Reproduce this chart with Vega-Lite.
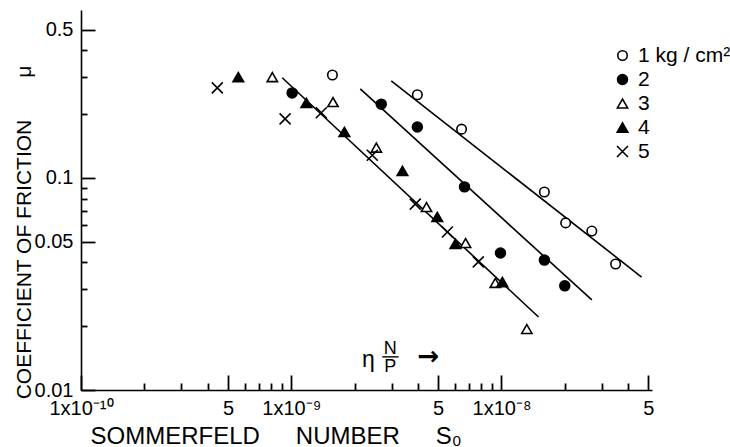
{
  "$schema": "https://vega.github.io/schema/vega-lite/v6.json",
  "width": 571,
  "height": 380,
  "autosize": "none",
  "padding": {"left": 81, "top": 10, "right": 78, "bottom": 57},
  "background": "white",
  "config": {
    "view": {"stroke": null},
    "font": "Liberation Sans",
    "axis": {"grid": false, "domainColor": "black", "labelColor": "black", "titleColor": "black", "labelFont": "Liberation Sans", "titleFont": "Liberation Sans", "titleFontWeight": "normal"},
    "legend": {"labelFont": "Liberation Sans"}
  },
  "datasets": {
    "points": [
      {"series": "1 kg / cm²", "x": 1.57e-9, "y": 0.306},
      {"series": "1 kg / cm²", "x": 3.98e-9, "y": 0.247},
      {"series": "1 kg / cm²", "x": 6.46e-9, "y": 0.170},
      {"series": "1 kg / cm²", "x": 1.60e-8, "y": 0.0859},
      {"series": "1 kg / cm²", "x": 2.02e-8, "y": 0.0614},
      {"series": "1 kg / cm²", "x": 2.69e-8, "y": 0.0562},
      {"series": "1 kg / cm²", "x": 3.49e-8, "y": 0.0393},
      {"series": "2", "x": 1.01e-9, "y": 0.252},
      {"series": "2", "x": 2.68e-9, "y": 0.223},
      {"series": "2", "x": 3.98e-9, "y": 0.174},
      {"series": "2", "x": 6.67e-9, "y": 0.0908},
      {"series": "2", "x": 9.89e-9, "y": 0.0443},
      {"series": "2", "x": 1.60e-8, "y": 0.0410},
      {"series": "2", "x": 2.0e-8, "y": 0.0310},
      {"series": "3", "x": 8.13e-10, "y": 0.299},
      {"series": "3", "x": 1.58e-9, "y": 0.228},
      {"series": "3", "x": 2.54e-9, "y": 0.139},
      {"series": "3", "x": 4.40e-9, "y": 0.0729},
      {"series": "3", "x": 6.75e-9, "y": 0.0493},
      {"series": "3", "x": 9.35e-9, "y": 0.032},
      {"series": "3", "x": 1.32e-8, "y": 0.0194},
      {"series": "4", "x": 5.60e-10, "y": 0.299},
      {"series": "4", "x": 1.18e-9, "y": 0.226},
      {"series": "4", "x": 1.79e-9, "y": 0.165},
      {"series": "4", "x": 3.38e-9, "y": 0.108},
      {"series": "4", "x": 4.95e-9, "y": 0.0655},
      {"series": "4", "x": 6.04e-9, "y": 0.0489},
      {"series": "4", "x": 1.01e-8, "y": 0.0323},
      {"series": "5", "x": 4.45e-10, "y": 0.266},
      {"series": "5", "x": 9.35e-10, "y": 0.190},
      {"series": "5", "x": 1.39e-9, "y": 0.203},
      {"series": "5", "x": 2.43e-9, "y": 0.128},
      {"series": "5", "x": 3.89e-9, "y": 0.0753},
      {"series": "5", "x": 5.53e-9, "y": 0.0556},
      {"series": "5", "x": 7.76e-9, "y": 0.0402}
    ],
    "lines": [
      {"line": "A", "x": 9.06e-10, "y": 0.297},
      {"line": "A", "x": 1.50e-8, "y": 0.0221},
      {"line": "B", "x": 2.13e-9, "y": 0.263},
      {"line": "B", "x": 2.69e-8, "y": 0.0266},
      {"line": "C", "x": 2.99e-9, "y": 0.287},
      {"line": "C", "x": 4.64e-8, "y": 0.0341}
    ],
    "notes": [
      {"x": 2.33e-9, "y": 0.01387, "t": "η"},
      {"x": 2.96e-9, "y": 0.0156, "t": "N"},
      {"x": 2.96e-9, "y": 0.01283, "t": "P"},
      {"x": 4.49e-9, "y": 0.01433, "t": "→"}
    ],
    "bar": [
      {"x": 2.71e-9, "x2": 3.24e-9, "y": 0.01433}
    ]
  },
  "encoding": {
    "x": {"field": "x", "type": "quantitative", "scale": {"type": "log", "domain": [1e-10, 5.2e-8], "nice": false},
          "axis": {"orient": "bottom", "zindex": 1,
                   "values": [1e-10, 2e-10, 3e-10, 4e-10, 5e-10, 6e-10, 7e-10, 8e-10, 9e-10, 1e-9, 2e-9, 3e-9, 4e-9, 5e-9, 6e-9, 7e-9, 8e-9, 9e-9, 1e-8, 2e-8, 3e-8, 4e-8, 5e-8],
                   "ticks": true, "tickColor": "black", "tickOpacity": 1,
                   "tickSize": {"condition": {"test": "datum.value == 1e-10 || datum.value == 5e-10 || datum.value == 1e-9 || datum.value == 5e-9 || datum.value == 1e-8 || datum.value == 5e-8", "value": -15}, "value": -7},
                   "tickWidth": 1.8,
                   "domain": true, "domainWidth": 1.6, "labelFontSize": 20, "labelPadding": 23, "labelFlush": false, "labelOverlap": false, "labelBound": false, "labelDx": 4,
                   "labelExpr": "datum.value == 1e-10 ? '1x10⁻¹⁰' : datum.value == 1e-9 ? '1x10⁻⁹' : datum.value == 1e-8 ? '1x10⁻⁸' : (datum.value == 5e-10 || datum.value == 5e-9 || datum.value == 5e-8) ? '5' : ''",
                   "title": "SOMMERFELD\u2003\u2002NUMBER\u2003\u2002S₀", "titleFontSize": 24, "titleAnchor": "start", "titleAlign": "left", "titleX": 9, "titleY": 53, "titleBaseline": "alphabetic", "grid": false}},
    "y": {"field": "y", "type": "quantitative", "scale": {"type": "log", "domain": [0.01, 0.62], "nice": false},
          "axis": {"orient": "left", "zindex": 1,
                   "values": [0.01, 0.02, 0.03, 0.04, 0.05, 0.06, 0.07, 0.08, 0.09, 0.1, 0.2, 0.3, 0.4, 0.5],
                   "ticks": true, "tickColor": "black", "tickOpacity": 1,
                   "tickSize": {"condition": {"test": "datum.value == 0.01 || datum.value == 0.05 || datum.value == 0.1 || datum.value == 0.5", "value": -14}, "value": -6},
                   "tickWidth": 1.8,
                   "labelExpr": "datum.value == 0.01 ? '0.01' : datum.value == 0.05 ? '0.05' : datum.value == 0.1 ? '0.1' : datum.value == 0.5 ? '0.5' : ''",
                   "domain": true, "domainWidth": 1.6, "labelFontSize": 20, "labelPadding": 22, "labelFlush": false, "labelOverlap": false, "labelBound": false,
                   "title": "COEFFICIENT OF FRICTION\u2003\u2003μ", "titleFontSize": 21, "titleAngle": -90, "titleX": -57, "titleY": 222, "titleAlign": "center", "titleBaseline": "middle", "grid": false}}
  },
  "layer": [
    {
      "data": {"name": "lines"},
      "mark": {"type": "line", "color": "black", "strokeWidth": 1.6},
      "encoding": {
        "detail": {"field": "line", "type": "nominal"}
      }
    },
    {
      "data": {"name": "points"},
      "mark": {"type": "point", "filled": true, "stroke": "black", "strokeWidth": 1.6, "opacity": 1},
      "encoding": {
        "shape": {"field": "series", "type": "nominal", "scale": {"domain": ["1 kg / cm²", "2", "3", "4", "5"], "range": ["circle", "circle", "triangle-up", "triangle-up", "M-1,-1L1,1M-1,1L1,-1"]},
                  "legend": {"orient": "none", "legendX": 531, "legendY": 35, "title": null, "labelFontSize": 21, "labelOffset": 5, "labelLimit": 400, "padding": 0, "rowPadding": 2, "symbolStrokeColor": "black", "symbolStrokeWidth": 1.6, "labelColor": "black"}},
        "fill": {"field": "series", "type": "nominal", "scale": {"domain": ["1 kg / cm²", "2", "3", "4", "5"], "range": ["white", "black", "white", "black", "black"]}},
        "size": {"field": "series", "type": "nominal", "scale": {"domain": ["1 kg / cm²", "2", "3", "4", "5"], "range": [90, 121, 180, 180, 81]}}
      }
    },
    {
      "data": {"name": "notes"},
      "transform": [{"filter": "datum.t == 'η'"}],
      "mark": {"type": "text", "fontSize": 23, "align": "center", "baseline": "middle", "color": "black"},
      "encoding": {
        "text": {"field": "t", "type": "nominal"}
      }
    },
    {
      "data": {"name": "notes"},
      "transform": [{"filter": "datum.t == 'N' || datum.t == 'P'"}],
      "mark": {"type": "text", "fontSize": 18, "align": "center", "baseline": "middle", "color": "black"},
      "encoding": {
        "text": {"field": "t", "type": "nominal"}
      }
    },
    {
      "data": {"name": "notes"},
      "transform": [{"filter": "datum.t == '→'"}],
      "mark": {"type": "text", "fontSize": 26, "align": "center", "baseline": "middle", "color": "black", "fontWeight": "bold", "font": "DejaVu Sans"},
      "encoding": {
        "text": {"field": "t", "type": "nominal"}
      }
    },
    {
      "data": {"name": "bar"},
      "mark": {"type": "rule", "color": "black", "strokeWidth": 1.4},
      "encoding": {
        "x2": {"field": "x2"}
      }
    }
  ]
}
